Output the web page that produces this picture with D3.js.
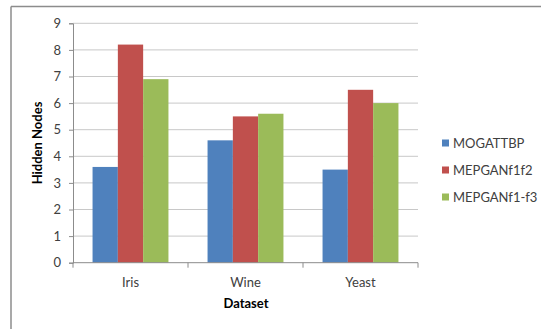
<!DOCTYPE html>
<html>
<head>
<meta charset="utf-8">
<script src="https://cdn.jsdelivr.net/npm/d3@7"></script>
<style>
  html, body { margin: 0; padding: 0; background: #fff; }
  svg { display: block; }
  text { font-family: Lato, "Open Sans", sans-serif; }
</style>
</head>
<body>
<svg id="chart" width="541" height="329"></svg>
<script>
// Dataset categories and series
const categories = ["Iris", "Wine", "Yeast"];
const seriesNames = ["MOGATTBP", "MEPGANf1f2", "MEPGANf1-f3"];
const mogattbp = [3.6, 4.6, 3.5];
const mepganF1f2 = [8.2, 5.5, 6.5];
const mepganF1f3 = [6.9, 5.6, 6.0];
const yTicks = [0, 1, 2, 3, 4, 5, 6, 7, 8, 9];
const colors = ["#4f81bd", "#c0504d", "#9bbb59"];

const seriesValues = [mogattbp, mepganF1f2, mepganF1f3];
const rows = categories.map((c, i) => ({
  category: c,
  values: seriesNames.map((s, j) => ({ series: s, value: seriesValues[j][i] }))
}));

const svg = d3.select("#chart");
const plot = { left: 73, right: 418, top: 23.3, bottom: 262.7 };

// Outer frame: top and left edges only
svg.append("line").attr("x1", 11).attr("x2", 541).attr("y1", 6.5).attr("y2", 6.5)
  .attr("stroke", "#8c8c8c").attr("stroke-width", 1.5);
svg.append("line").attr("x1", 11).attr("x2", 11).attr("y1", 6.5).attr("y2", 329)
  .attr("stroke", "#8c8c8c").attr("stroke-width", 1.5);

const x0 = d3.scaleBand().domain(categories)
  .range([plot.left, plot.right]).paddingInner(0.34).paddingOuter(0.17);
const x1 = d3.scaleBand().domain(seriesNames).range([0, x0.bandwidth()]);
const y = d3.scaleLinear().domain([0, 9]).range([plot.bottom, plot.top]);
const color = d3.scaleOrdinal().domain(seriesNames).range(colors);

// Horizontal gridlines
svg.append("g").selectAll("line").data(yTicks.filter(t => t > 0)).join("line")
  .attr("x1", plot.left).attr("x2", plot.right)
  .attr("y1", d => y(d)).attr("y2", d => y(d))
  .attr("stroke", "#c8c8c8").attr("stroke-width", 1);

// Y axis
const yAxis = svg.append("g").attr("transform", `translate(${plot.left},0)`)
  .call(d3.axisLeft(y).tickValues(yTicks).tickSize(4).tickPadding(8).tickFormat(d3.format("d")));
yAxis.select(".domain").attr("stroke", "#8c8c8c");
yAxis.selectAll(".tick line").attr("stroke", "#8c8c8c");
yAxis.selectAll(".tick text").attr("font-size", 13).attr("fill", "#404040")
  .attr("font-family", "Lato, 'Open Sans', sans-serif");

// Bars
const groups = svg.append("g").selectAll("g").data(rows).join("g")
  .attr("transform", d => `translate(${x0(d.category)},0)`);
groups.selectAll("rect").data(d => d.values).join("rect")
  .attr("x", d => x1(d.series))
  .attr("width", x1.bandwidth())
  .attr("y", d => y(d.value))
  .attr("height", d => y(0) - y(d.value))
  .attr("fill", d => color(d.series));

// X axis with boundary ticks between categories
const xAxisG = svg.append("g").attr("transform", `translate(0,${plot.bottom})`);
xAxisG.append("line").attr("x1", plot.left).attr("x2", plot.right)
  .attr("stroke", "#8c8c8c");
const step = x0.step();
const boundaries = d3.range(categories.length + 1).map(i => plot.left + i * (plot.right - plot.left) / categories.length);
xAxisG.selectAll(".bt").data(boundaries).join("line").attr("class", "bt")
  .attr("x1", d => d).attr("x2", d => d).attr("y1", 0).attr("y2", 5)
  .attr("stroke", "#8c8c8c");
xAxisG.selectAll(".cl").data(categories).join("text").attr("class", "cl")
  .attr("x", d => x0(d) + x0.bandwidth() / 2).attr("y", 24)
  .attr("text-anchor", "middle").attr("font-size", 13).attr("fill", "#404040")
  .text(d => d);

// Axis titles
svg.append("text").attr("x", 246).attr("y", 308).attr("text-anchor", "middle")
  .attr("font-size", 13).attr("font-weight", "bold").attr("fill", "#000").text("Dataset");
svg.append("text").attr("transform", "translate(42,143) rotate(-90)")
  .attr("text-anchor", "middle").attr("font-size", 13).attr("font-weight", "bold")
  .attr("fill", "#000").text("Hidden Nodes");

// Legend
const legend = svg.append("g").selectAll("g").data(seriesNames).join("g")
  .attr("transform", (d, i) => `translate(442,${143 + i * 27})`);
legend.append("rect").attr("x", 0).attr("y", -3.5).attr("width", 7).attr("height", 7)
  .attr("fill", d => color(d));
legend.append("text").attr("x", 11).attr("y", 0).attr("dy", "0.35em")
  .attr("font-size", 13).attr("fill", "#404040").text(d => d);
</script>
</body>
</html>
